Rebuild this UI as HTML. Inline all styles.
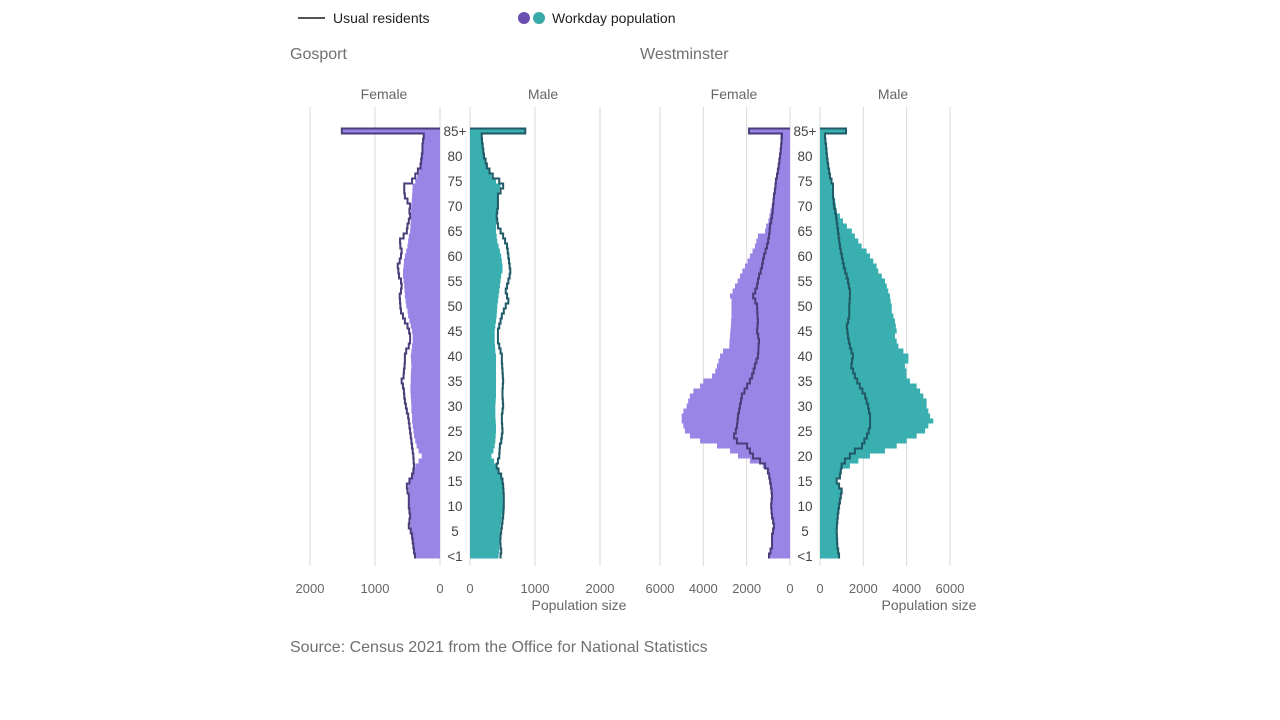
<!DOCTYPE html>
<html><head><meta charset="utf-8"><style>
html,body{margin:0;padding:0;background:#fff;}
svg{display:block;font-family:"Liberation Sans",sans-serif;}
</style></head><body>
<svg id="chart" width="1280" height="720">
  <g>
    <line x1="298" y1="18" x2="325" y2="18" stroke="#555" stroke-width="2"/>
    <text x="333" y="23" font-size="14" fill="#222">Usual residents</text>
    <circle cx="524" cy="18" r="6" fill="#6a4fb0"/>
    <circle cx="539" cy="18" r="6" fill="#38a8a8"/>
    <text x="552" y="23" font-size="14" fill="#222">Workday population</text>
  </g>
  <text x="290" y="59" font-size="16" fill="#707070">Gosport</text>
  <text x="640" y="59" font-size="16" fill="#707070">Westminster</text>
  <text x="290" y="652" font-size="16" fill="#707070">Source: Census 2021 from the Office for National Statistics</text>
  <g id="plots"></g>
</svg>
<script>
const ages = Array.from({length:86},(_, i)=>i);
const ageTickLabels = ["<1","5","10","15","20","25","30","35","40","45","50","55","60","65","70","75","80","85+"];
const gosportTicks = [0,1000,2000];
const westminsterTicks = [0,2000,4000,6000];
const gosportFemaleResidents = [385,400,410,420,430,450,480,470,460,470,480,480,480,500,510,470,430,410,400,405,410,420,430,440,450,460,470,480,490,510,525,540,550,555,570,590,560,555,545,540,540,520,480,460,460,475,500,540,570,600,610,615,620,600,590,600,630,640,650,620,600,590,610,615,560,510,500,480,460,470,460,500,540,550,550,430,380,340,300,290,280,270,270,260,250,1510];
const gosportFemaleWorkday = [380,395,400,410,420,440,460,450,450,460,470,470,475,480,490,480,440,400,380,330,280,330,360,380,400,410,420,430,430,440,440,445,450,455,455,450,450,445,440,445,450,440,430,420,420,430,450,470,490,500,520,530,540,545,550,560,570,570,560,555,540,520,500,490,480,460,455,450,445,445,440,435,430,425,420,380,350,320,300,285,270,265,260,255,250,1500];
const gosportMaleResidents = [470,480,470,465,470,480,490,500,510,515,520,520,520,515,510,500,480,440,410,430,450,455,460,480,490,500,495,490,490,500,510,505,500,500,505,510,505,500,495,490,490,470,450,430,430,430,450,470,490,520,550,590,570,550,570,590,610,620,610,600,590,580,570,540,510,470,430,420,410,420,430,430,430,470,510,450,350,300,260,240,215,205,195,185,180,850];
const gosportMaleWorkday = [440,450,450,450,455,460,470,480,490,500,510,510,505,505,500,500,470,430,410,370,330,360,380,390,395,400,400,395,390,390,390,395,400,400,400,400,400,400,400,400,400,390,385,380,380,380,390,400,410,415,420,430,440,450,460,470,480,500,500,490,480,460,440,420,410,400,400,405,410,415,420,420,430,450,470,400,330,290,250,230,200,195,185,180,170,850];
const westFemaleResidents = [970,900,830,830,830,780,740,780,830,850,870,850,830,850,880,920,960,1020,1150,1380,1710,1850,1980,2450,2580,2500,2450,2420,2400,2350,2310,2260,2220,2100,1980,1850,1750,1680,1620,1550,1480,1460,1450,1430,1470,1520,1500,1480,1500,1510,1520,1600,1700,1600,1520,1480,1430,1350,1290,1250,1200,1130,1060,1010,970,940,920,870,830,800,780,760,740,700,670,650,600,560,520,490,460,430,410,390,370,1890];
const westFemaleWorkday = [970,900,830,830,830,780,740,780,830,850,870,850,830,850,880,920,960,1020,1250,1850,2400,2770,3370,4150,4620,4850,4920,5000,5000,4920,4770,4700,4620,4460,4150,4000,3600,3450,3370,3300,3230,3090,2800,2790,2770,2750,2730,2720,2700,2700,2700,2700,2770,2650,2540,2420,2310,2200,2080,1960,1850,1730,1620,1550,1480,1150,1100,1000,950,900,850,800,750,700,680,650,600,570,540,500,450,440,430,420,450,1890];
const westMaleResidents = [880,840,800,790,780,770,780,800,820,850,880,920,960,1000,880,770,920,960,1000,1150,1380,1610,1940,2050,2170,2250,2310,2310,2310,2260,2220,2150,2080,1960,1840,1720,1610,1530,1450,1480,1520,1450,1380,1330,1290,1260,1240,1300,1350,1350,1350,1370,1380,1380,1330,1290,1230,1160,1100,1050,1010,960,920,890,860,830,800,770,740,700,650,630,600,600,600,530,460,420,380,350,320,300,280,250,230,1200];
const westMaleWorkday = [880,840,800,790,780,770,780,800,820,850,880,920,960,1000,880,770,920,960,1380,1770,2310,3000,3540,4000,4460,4850,5000,5230,5080,5000,4920,4920,4770,4620,4460,4150,3990,3990,3920,4080,4080,3850,3620,3540,3460,3540,3500,3460,3390,3310,3310,3260,3230,3150,3080,3000,2850,2690,2610,2460,2310,2150,1920,1770,1610,1470,1240,1060,920,780,740,700,650,600,550,500,440,400,360,330,300,280,270,260,250,1200];

const NS="http://www.w3.org/2000/svg";
const plots=document.getElementById('plots');
function el(tag,attrs,parent){const e=document.createElementNS(NS,tag);for(const k in attrs)e.setAttribute(k,attrs[k]);(parent||plots).appendChild(e);return e;}
const yCenter = a => 556 - a*5;
const gridTop=107, gridBottom=566;

function drawPanel(cfg){
  const g=el('g',{});
  
  
  const fx = v => cfg.f0 - v*cfg.scale;
  const mx = v => cfg.m0 + v*cfg.scale;
  cfg.ticks.forEach(t=>{
    [fx(t),mx(t)].forEach((x)=>{
      const l=el('line',{x1:x,y1:gridTop,x2:x,y2:gridBottom,stroke:'#d9d9d9','stroke-width':1},g);
      
      
      const tx=el('text',{x:x,y:593,'font-size':13,fill:'#666','text-anchor':'middle'},g);
      tx.textContent=String(t);
      
      
    });
  });
  ages.forEach(a=>{
    const yc=yCenter(a);
    const bf=el('rect',{x:fx(cfg.fw[a]),y:yc-2.5,width:cfg.fw[a]*cfg.scale,height:5,fill:'#9985e6'},g);
    
    
    const bm=el('rect',{x:cfg.m0,y:yc-2.5,width:cfg.mw[a]*cfg.scale,height:5,fill:'#3aafb0'},g);
    
    
  });
  function stepPath(vals,xf,x0){
    let d='M'+xf(vals[0])+','+(yCenter(0)+2.5);
    ages.forEach(a=>{
      const yc=yCenter(a);
      d+=' L'+xf(vals[a])+','+(yc+2.5)+' L'+xf(vals[a])+','+(yc-2.5);
    });
    d+=' L'+x0+','+(yCenter(85)-2.5);
    return d;
  }
  const pf=el('path',{d:stepPath(cfg.fr,fx,cfg.f0),fill:'none',stroke:'#4a3d7a','stroke-width':2},g);
  
  
  const pm=el('path',{d:stepPath(cfg.mr,mx,cfg.m0),fill:'none',stroke:'#1f5a66','stroke-width':2},g);
  
  
  const ac=(cfg.f0+cfg.m0)/2;
  ageTickLabels.forEach((lab,i)=>{
    const t=el('text',{x:ac,y:yCenter(i*5)+5,'font-size':13.5,fill:'#444','text-anchor':'middle'},g);
    t.textContent=lab;
    
    
  });
  const tf=el('text',{x:cfg.f0-56,y:99,'font-size':14,fill:'#666','text-anchor':'middle'},g);
  tf.textContent='Female';
  
  
  const tm=el('text',{x:cfg.m0+73,y:99,'font-size':14,fill:'#666','text-anchor':'middle'},g);
  tm.textContent='Male';
  
  
  const ps=el('text',{x:cfg.popX,y:610,'font-size':14,fill:'#666','text-anchor':'middle'},g);
  ps.textContent='Population size';
  
  
}
drawPanel({key:'gosport',f0:440,m0:470,scale:0.065,ticks:gosportTicks,fw:gosportFemaleWorkday,fr:gosportFemaleResidents,mw:gosportMaleWorkday,mr:gosportMaleResidents,popX:579});
drawPanel({key:'westminster',f0:790,m0:820,scale:130/6000,ticks:westminsterTicks,fw:westFemaleWorkday,fr:westFemaleResidents,mw:westMaleWorkday,mr:westMaleResidents,popX:929});
</script>
</body></html>
